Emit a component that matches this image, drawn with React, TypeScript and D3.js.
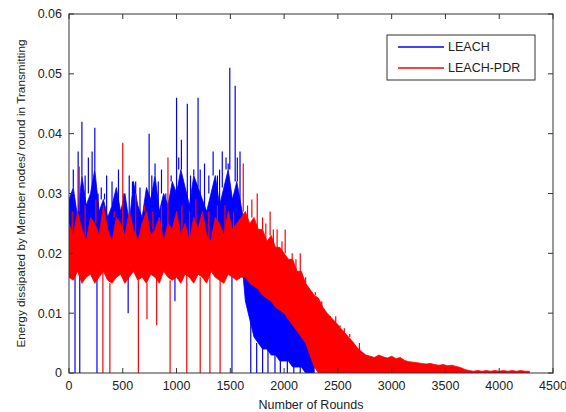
import React from "react";
import * as d3 from "d3";

// Envelope samples are stored every 40 rounds
const ROUND_STEP = 40;

const xTicks = [0, 500, 1000, 1500, 2000, 2500, 3000, 3500, 4000, 4500];
const yTicks = [0, 0.01, 0.02, 0.03, 0.04, 0.05, 0.06];
const yTickLabels = ["0", "0.01", "0.02", "0.03", "0.04", "0.05", "0.06"];
const seriesNames = ["LEACH", "LEACH-PDR"];
const xLabel = "Number of Rounds";
const yLabel = "Energy dissipated by Member nodes/ round in Transmitting";

// ---- LEACH: per-40-round envelope (rounds 0 .. 2280) ----
const leachHigh = [
  .029, .031, .026, .033, .028, .030, .034, .027, .029, .026,
  .028, .031, .027, .030, .025, .032, .028, .026, .031, .029,
  .033, .027, .030, .028, .032, .030, .034, .031, .028, .033,
  .031, .029, .027, .030, .033, .028, .031, .034, .029, .032,
  .028, .024, .020, .019, .018, .016, .016, .014, .013, .013,
  .011, .011, .009, .008, .007, .006, .004, .002,
];
const leachLow = [
  .020, .021, .019, .021, .020, .022, .020, .021, .019, .021,
  .020, .021, .020, .019, .021, .020, .022, .020, .021, .019,
  .021, .020, .021, .020, .019, .021, .020, .022, .020, .021,
  .020, .019, .021, .020, .021, .020, .019, .021, .020, .021,
  .020, .012, .009, .006, .005, .004, .004, .003, .003, .002,
  .002, .002, .001, .001, .001, 0, 0, 0,
];
// LEACH isolated peaks (round, value)
const leachPeakRounds = [20, 40, 85, 120, 150, 180, 215, 240, 270, 300, 330, 350, 400, 430, 460, 510, 560, 590, 620, 660, 700, 745, 770, 800, 830, 860, 900, 950, 1000, 1020, 1045, 1100, 1130, 1160, 1200, 1220, 1260, 1300, 1340, 1380, 1400, 1425, 1460, 1480, 1495, 1545, 1565, 1590];
const leachPeakValues = [.031, .034, .037, .042, .033, .036, .037, .041, .030, .031, .030, .033, .032, .031, .034, .029, .033, .030, .032, .031, .031, .040, .033, .035, .032, .034, .030, .033, .046, .036, .039, .045, .033, .034, .046, .034, .035, .033, .037, .033, .034, .037, .036, .035, .051, .048, .036, .037];
// LEACH isolated dips (round, value)
const leachDipRounds = [56, 100, 260, 550, 985, 1515, 1690, 1745, 1800, 1850, 1915, 1965, 2030, 2090, 2150, 2210];
const leachDipValues = [0, 0, 0, .010, .012, 0, 0, 0, 0, 0, 0, 0, 0, 0, 0, 0];

// ---- LEACH-PDR: per-40-round envelope (rounds 0 .. 4280) ----
const pdrHigh = [
  .025, .023, .027, .024, .022, .026, .025, .023, .028, .024,
  .022, .026, .025, .023, .027, .024, .022, .025, .027, .023,
  .024, .026, .022, .025, .024, .027, .023, .025, .022, .026,
  .024, .027, .023, .022, .026, .025, .023, .027, .024, .025,
  .026, .027, .025, .026, .024, .024, .022, .023, .021, .021,
  .020, .019, .019, .017, .017, .015, .014, .013, .0125, .011,
  .010, .0092, .0085, .0076, .0068, .006, .0052, .0042, .0036, .003,
  .0028, .0026, .003, .0027, .0025, .0028, .0024, .0026, .0021, .0019,
  .0018, .0017, .0016, .0015, .0016, .0014, .0013, .0014, .0012, .0013,
  .0011, .0009, .0006, .0004, .0003, .0004, .0003, .0004, .0003, .0004,
  .0003, .0004, .0003, .0004, .0003, .0004, .0003, .0003,
];
const pdrLow = [
  .016, .0155, .017, .015, .016, .0165, .015, .016, .017, .0155,
  .015, .016, .0165, .015, .016, .017, .0155, .016, .015, .0165,
  .016, .015, .017, .016, .0155, .016, .015, .0165, .016, .015,
  .0165, .016, .015, .017, .016, .0155, .015, .0165, .016, .0155,
  .016, .016, .015, .0145, .014, .013, .0125, .012, .011, .0105,
  .010, .009, .008, .007, .006, .005, .003, .001, 0, 0,
  0, 0, 0, 0, 0, 0, 0, 0, 0, 0,
  0, 0, 0, 0, 0, 0, 0, 0, 0, 0,
  0, 0, 0, 0, 0, 0, 0, 0, 0, 0,
  0, 0, 0, 0, 0, 0, 0, 0, 0, 0,
  0, 0, 0, 0, 0, 0, 0, 0,
];
const pdrPeakRounds = [30, 95, 150, 250, 330, 420, 500, 560, 620, 700, 780, 860, 920, 1000, 1050, 1120, 1180, 1250, 1300, 1380, 1450, 1530, 1620, 1660, 1700, 1750, 1800, 1830, 1870, 1900, 1935, 1980, 2010, 2075, 2110, 2150, 2200, 2290, 2350, 2430, 2480, 2520, 2560, 2610, 2700];
const pdrPeakValues = [.027, .0345, .028, .029, .028, .027, .0385, .027, .030, .028, .027, .028, .036, .027, .028, .027, .029, .027, .027, .028, .028, .027, .035, .028, .029, .030, .026, .025, .027, .024, .024, .022, .024, .020, .019, .020, .016, .0135, .012, .0095, .0095, .008, .0075, .0065, .005];
const pdrDipRounds = [315, 380, 645, 725, 815, 940, 1095, 1220, 1310, 1405];
const pdrDipValues = [0, 0, 0, .009, .008, 0, 0, 0, 0, 0];

const seriesColors = ["#0000ff", "#ff0000"];

export default function App() {
  const W = 566;
  const H = 412;
  const left = 69, right = 553, top = 14, bottom = 373;
  const x = d3.scaleLinear().domain([0, 4500]).range([left, right]);
  const y = d3.scaleLinear().domain([0, 0.06]).range([bottom, top]);
  const font = "'Liberation Sans', Arial, Helvetica, sans-serif";
  const tickLen = 5;
  const axisColor = "#333";
  const textColor = "#222";

  const series = [
    { high: leachHigh, low: leachLow, peakR: leachPeakRounds, peakV: leachPeakValues, dipR: leachDipRounds, dipV: leachDipValues },
    { high: pdrHigh, low: pdrLow, peakR: pdrPeakRounds, peakV: pdrPeakValues, dipR: pdrDipRounds, dipV: pdrDipValues },
  ];

  const area = (hi: number[], lo: number[]) =>
    d3
      .area<number>()
      .x((_, i) => x(i * ROUND_STEP))
      .y0((_, i) => y(lo[i]))
      .y1((d) => y(d))(hi) || "";

  const near = (arr: number[], r: number) =>
    arr[Math.max(0, Math.min(arr.length - 1, Math.round(r / ROUND_STEP)))];

  return (
    <svg
      width={W}
      height={H}
      style={{ position: "absolute", left: 0, top: 0, background: "#fff" }}
      fontFamily={font}
    >
      <rect x={0} y={0} width={W} height={H} fill="#fff" />
      <defs>
        <clipPath id="plotclip">
          <rect x={left} y={top} width={right - left} height={bottom - top} />
        </clipPath>
      </defs>
      <g clipPath="url(#plotclip)">
        {series.map((s, k) => (
          <g key={k}>
            <path
              d={area(s.high, s.low)}
              fill={seriesColors[k]}
              stroke={seriesColors[k]}
              strokeWidth={0.8}
            />
            {s.peakR.map((r, j) => (
              <line
                key={"p" + j}
                x1={x(r)}
                x2={x(r)}
                y1={y(near(s.high, r))}
                y2={y(s.peakV[j])}
                stroke={seriesColors[k]}
                strokeWidth={1.2}
              />
            ))}
            {s.dipR.map((r, j) => (
              <line
                key={"d" + j}
                x1={x(r)}
                x2={x(r)}
                y1={y(near(s.low, r))}
                y2={y(s.dipV[j])}
                stroke={seriesColors[k]}
                strokeWidth={1.2}
              />
            ))}
          </g>
        ))}
      </g>
      {/* axes box */}
      <rect
        x={left}
        y={top}
        width={right - left}
        height={bottom - top}
        fill="none"
        stroke={axisColor}
        strokeWidth={1}
      />
      {xTicks.map((t) => (
        <g key={"xt" + t}>
          <line x1={x(t)} x2={x(t)} y1={bottom} y2={bottom - tickLen} stroke={axisColor} />
          <line x1={x(t)} x2={x(t)} y1={top} y2={top + tickLen} stroke={axisColor} />
          <text x={x(t)} y={390} textAnchor="middle" fontSize={12.5} fill={textColor}>
            {t}
          </text>
        </g>
      ))}
      {yTicks.map((t, i) => (
        <g key={"yt" + t}>
          <line x1={left} x2={left + tickLen} y1={y(t)} y2={y(t)} stroke={axisColor} />
          <line x1={right} x2={right - tickLen} y1={y(t)} y2={y(t)} stroke={axisColor} />
          <text x={62} y={y(t)} dy="0.35em" textAnchor="end" fontSize={12.5} fill={textColor}>
            {yTickLabels[i]}
          </text>
        </g>
      ))}
      <text x={(left + right) / 2} y={409} textAnchor="middle" fontSize={12.5} fill={textColor}>
        {xLabel}
      </text>
      <text
        transform={`translate(25,${(top + bottom) / 2}) rotate(-90)`}
        textAnchor="middle"
        fontSize={11.8}
        fill={textColor}
      >
        {yLabel}
      </text>
      {/* legend */}
      <rect x={387} y={35} width={148} height={45} fill="#fff" stroke={axisColor} strokeWidth={1} />
      {seriesNames.map((name, k) => (
        <g key={name}>
          <line
            x1={398}
            x2={444}
            y1={47 + k * 21}
            y2={47 + k * 21}
            stroke={seriesColors[k]}
            strokeWidth={1.5}
          />
          <text x={448} y={47 + k * 21} dy="0.35em" fontSize={12.5} fill={textColor}>
            {name}
          </text>
        </g>
      ))}
    </svg>
  );
}
